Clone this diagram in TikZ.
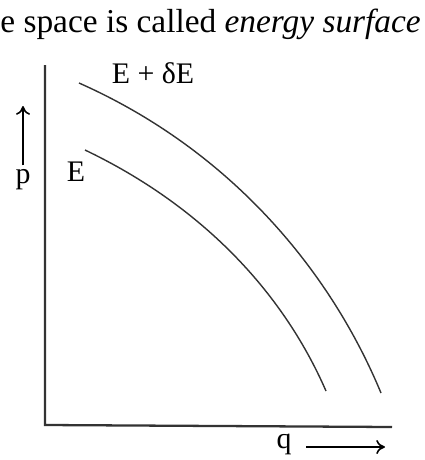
\documentclass[tikz,border=0pt]{standalone}
\usepackage{fontspec}
\setmainfont{Liberation Serif}
\usepackage{tikz}
\usetikzlibrary{arrows.meta, positioning}

\tikzset{
  lbl/.style={font=\fontsize{17}{20}\selectfont, inner sep=0pt},
  axis/.style={line width=1.3pt, black!80},
  level/.style={line width=0.8pt, black!80},
  dirarrow/.style={->, line width=0.9pt}
}

\begin{document}
\begin{tikzpicture}[x=0.02cm, y=-0.02cm, >={To[length=5pt, width=8pt]}]
  \useasboundingbox (0,0) rectangle (425,460);

  % Textzeile oben
  \node[lbl, font=\fontsize{19}{22}\selectfont, anchor=base west] (caption) at (0,32) {e space is called \textit{energy surface}};

  % Achsen
  \coordinate (ytop) at (45,65);
  \coordinate (origin) at (45,425);
  \coordinate (xend) at (392,427);
  \draw[axis] (ytop) -- (origin) -- (xend);

  % Energieflaechen
  \draw[level] (79,83) .. controls (230,150) and (330,270) .. (381,393);
  \draw[level] (85,150) .. controls (200,205) and (282,290) .. (326,391);

  \node[lbl] (outerlbl) at (153,73) {E + δE};
  \node[lbl] (innerlbl) at (76,172) {E};

  % Richtungspfeile
  \node[lbl] (plbl) at (23,180) {p};
  \coordinate (ptip) at (23,106);
  \draw[dirarrow] (plbl.north) ++(0,-4) -- (ptip);

  \node[lbl] (qlbl) at (284,444) {q};
  \coordinate (qtail) at (306,447);
  \coordinate (qtip) at (385,447);
  \draw[dirarrow] (qtail) -- (qtip);
\end{tikzpicture}
\end{document}
